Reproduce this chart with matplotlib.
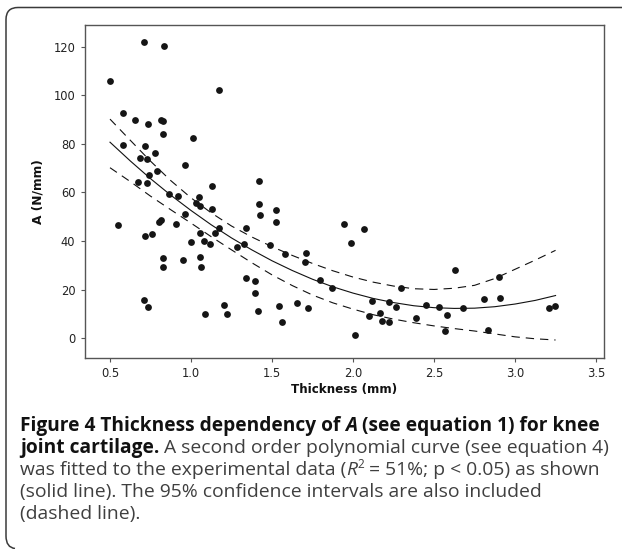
import matplotlib
matplotlib.use('Agg')
import matplotlib.pyplot as plt
from matplotlib.path import Path
from matplotlib.patches import PathPatch
from matplotlib.font_manager import FontProperties

# ---------------- data ----------------
thickness = [0.502, 0.710, 0.833, 1.171, 0.580, 0.652, 0.737, 0.813, 0.827, 0.825,
             1.014, 0.580, 0.716, 0.780, 0.683, 0.730, 0.965, 0.788, 0.743, 0.671,
             0.728, 1.417, 0.866, 0.917, 1.049, 1.132, 1.029, 1.056, 1.417, 1.132,
             1.527, 1.426, 0.965, 1.523, 0.551, 0.815, 0.804, 0.907, 1.171, 1.146,
             1.341, 1.056, 0.716, 0.757, 1.002, 1.080, 1.119, 1.282, 1.327, 1.490,
             1.583, 1.710, 1.704, 0.827, 0.827, 0.948, 1.056, 1.062, 1.341, 1.395,
             1.395, 1.794, 0.710, 0.737, 1.088, 1.204, 1.223, 1.411, 1.543, 1.562,
             1.652, 1.724, 1.986, 2.070, 1.944, 1.872, 2.115, 2.224, 2.265, 2.298,
             2.166, 2.100, 2.179, 2.224, 2.010, 2.389, 2.453, 2.533, 2.583, 2.628,
             2.679, 2.568, 2.811, 2.907, 2.901, 2.831, 3.212, 3.249]
a_values = [105.8, 121.8, 120.2, 102.3, 92.8, 89.7, 88.1, 89.7, 89.4, 84.1,
            82.4, 79.4, 79.0, 76.4, 74.1, 73.7, 71.2, 69.0, 67.3, 64.2,
            63.8, 64.6, 59.5, 58.6, 58.0, 62.5, 55.6, 54.6, 55.1, 53.3,
            52.9, 50.7, 51.3, 47.9, 46.5, 48.7, 47.7, 47.2, 45.3, 43.5,
            45.3, 43.2, 42.2, 43.0, 39.5, 39.9, 38.7, 37.4, 38.7, 38.3,
            34.8, 35.2, 31.4, 33.0, 29.2, 32.2, 33.6, 29.2, 24.8, 23.6,
            18.8, 24.0, 15.8, 12.8, 10.1, 13.6, 10.1, 11.4, 13.2, 6.6,
            14.5, 12.3, 39.2, 45.1, 46.9, 20.6, 15.3, 14.9, 12.8, 20.6,
            10.5, 9.3, 7.1, 6.7, 1.5, 8.5, 13.7, 12.8, 9.7, 28.0,
            12.3, 2.9, 16.2, 16.6, 25.4, 3.3, 12.6, 13.2]

curve_x = [0.5, 0.625, 0.75, 0.875, 1.0, 1.125, 1.25, 1.375, 1.5, 1.625, 1.75, 1.875,
           2.0, 2.125, 2.25, 2.375, 2.5, 2.625, 2.75, 2.875, 3.0, 3.125, 3.25]
fit_y = [80.7, 73.0, 65.7, 58.9, 52.6, 46.7, 41.3, 36.4, 31.9, 27.9, 24.3, 21.2,
         18.6, 16.4, 14.7, 13.4, 12.6, 12.3, 12.4, 13.0, 14.1, 15.6, 17.6]
upper_y = [90.2, 81.5, 72.9, 64.9, 57.8, 51.6, 46.2, 41.7, 37.7, 34.1, 30.8, 27.8,
           25.2, 23.1, 21.5, 20.4, 20.1, 20.6, 21.8, 24.6, 28.4, 32.2, 36.2]
lower_y = [70.2, 64.5, 58.5, 52.9, 47.4, 41.8, 36.4, 31.1, 26.1, 21.7, 17.8, 14.6,
           12.0, 9.7, 7.9, 6.4, 5.1, 4.0, 3.0, 1.8, 0.6, -0.2, -0.7]

x_ticks = [0.5, 1.0, 1.5, 2.0, 2.5, 3.0, 3.5]
x_ticklabels = ['0.5', '1.0', '1.5', '2.0', '2.5', '3.0', '3.5']
y_ticks = [0, 20, 40, 60, 80, 100, 120]
y_ticklabels = ['0', '20', '40', '60', '80', '100', '120']
x_label = 'Thickness (mm)'
y_label = 'A (N/mm)'

# ---------------- figure ----------------
plt.rcParams['lines.scale_dashes'] = False
W, H = 622, 549
fig = plt.figure(figsize=(W / 100, H / 100), dpi=100)
fig.patch.set_facecolor('white')

ax = fig.add_axes([85 / W, 1 - 358.3 / H, 519 / W, 333.6 / H])
ax.set_xlim(0.3457, 3.549)
ax.set_ylim(-8.23, 129.05)

ax.plot(thickness, a_values, 'o', ms=4.9, mew=0, color='#151515', zorder=3)
ax.plot(curve_x, fit_y, '-', lw=0.8, color='#111111', zorder=2)
ax.plot(curve_x, upper_y, lw=0.8, color='#111111', dashes=(6.0, 4.3), zorder=2)
ax.plot(curve_x, lower_y, lw=0.8, color='#111111', dashes=(6.0, 4.3), zorder=2)

ax.set_xticks(x_ticks)
ax.set_xticklabels(x_ticklabels)
ax.set_yticks(y_ticks)
ax.set_yticklabels(y_ticklabels)
for sp in ax.spines.values():
    sp.set_color('#555555')
    sp.set_linewidth(1.0)
ax.tick_params(axis='both', direction='out', length=3.0, width=0.8, color='#555555',
               labelsize=8.3, labelcolor='#222222')
ax.tick_params(axis='x', pad=3.0)
ax.tick_params(axis='y', pad=4.0)

ax.set_xlabel(x_label, fontsize=8.6, fontweight='bold', color='#111111')
ax.xaxis.set_label_coords(0.5, -(390 - 358.3) / 333.6)
ax.xaxis.label.set_verticalalignment('center')
ax.set_ylabel(y_label, fontsize=8.8, fontweight='bold', color='#111111')
ax.yaxis.set_label_coords((38 - 85) / 519, 0.5)
ax.yaxis.label.set_verticalalignment('center')

# ---------------- outer bracket border ----------------
def P(x, y):
    return (x / W, 1 - y / H)

r = 12
verts = [P(W + 2, 7.5), P(6 + r, 7.5), P(6, 7.5), P(6, 7.5 + r),
         P(6, 536), P(6, 547.5), P(15, 548.5)]
codes = [Path.MOVETO, Path.LINETO, Path.CURVE3, Path.CURVE3,
         Path.LINETO, Path.CURVE3, Path.CURVE3]
fig.add_artist(PathPatch(Path(verts, codes), transform=fig.transFigure,
                         fill=False, edgecolor='#3a3a3a', lw=1.1))

# ---------------- caption ----------------
renderer = fig.canvas.get_renderer()
fam = ['Open Sans', 'DejaVu Sans']


def fp(size, weight='normal', style='normal'):
    return FontProperties(family=fam, size=size, weight=weight, style=style)


def width(s, prop):
    t1 = fig.text(0, 0, '|' + s + '|', fontproperties=prop)
    t2 = fig.text(0, 0, '||', fontproperties=prop)
    w = t1.get_window_extent(renderer).width - t2.get_window_extent(renderer).width
    t1.remove()
    t2.remove()
    return w


ref_line = [('Figure 4 Thickness dependency of ', 'b'), ('A', 'bi'),
            (' (see equation 1) for knee', 'b')]
base_size = 10.0


def props(size):
    rs = size * 1.004
    return {'b': fp(size, 'bold'), 'bi': fp(size, 'bold', 'italic'),
            'r': fp(rs), 'i': fp(rs, style='italic'),
            'sup': fp(rs * 0.62)}


pr = props(base_size)
w0 = sum(width(s, pr[k]) for s, k in ref_line)
size = base_size * 581.0 / w0
pr = props(size)

bold_c = '#111111'
reg_c = '#3f3f3f'
lines = [
    [('Figure 4 Thickness dependency of ', 'b'), ('A', 'bi'),
     (' (see equation 1) for knee', 'b')],
    [('joint cartilage.', 'b'), (' A second order polynomial curve (see equation 4)', 'r')],
    [('was fitted to the experimental data (', 'r'), ('R', 'i'), ('2', 'sup'),
     (' = 51%; p < 0.05) as shown', 'r')],
    [('(solid line). The 95% confidence intervals are also included', 'r')],
    [('(dashed line).', 'r')],
]
baselines = [431, 453, 475, 497, 519]
for segs, base in zip(lines, baselines):
    x = 20.0
    for s, k in segs:
        dy = -6.5 if k == 'sup' else 0
        c = bold_c if k in ('b', 'bi') else reg_c
        fig.text(x / W, 1 - (base + dy) / H, s, fontproperties=pr[k], color=c,
                 ha='left', va='baseline')
        x += width(s, pr[k])

fig.savefig('out.png', dpi=100, facecolor='white')
